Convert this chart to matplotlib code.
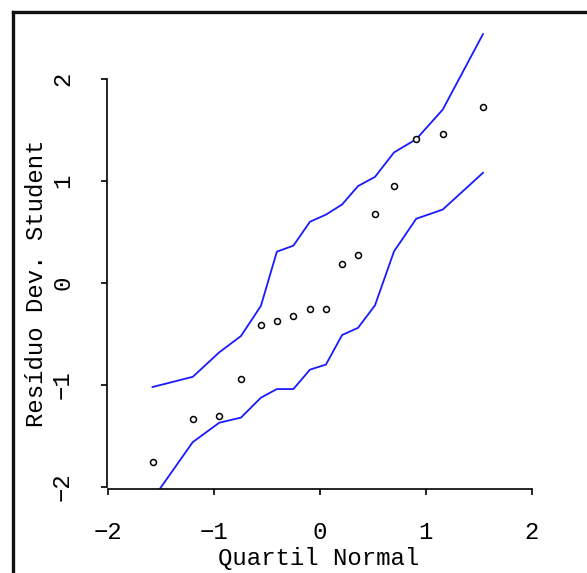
import matplotlib
matplotlib.use("Agg")
import matplotlib.pyplot as plt
from matplotlib.lines import Line2D

# Data
quantis = [-1.58, -1.20, -0.95, -0.745, -0.557, -0.406, -0.25, -0.094,
           0.057, 0.21, 0.36, 0.52, 0.70, 0.91, 1.16, 1.54]
residuos = [-1.76, -1.33, -1.30, -0.94, -0.41, -0.375, -0.32, -0.255,
            -0.255, 0.19, 0.275, 0.68, 0.95, 1.41, 1.46, 1.73]
env_sup = [-1.02, -0.92, -0.68, -0.52, -0.225, 0.307, 0.366, 0.60,
           0.67, 0.77, 0.95, 1.04, 1.28, 1.41, 1.70, 2.44]
env_inf = [-2.12, -1.56, -1.37, -1.32, -1.125, -1.04, -1.04, -0.85,
           -0.80, -0.51, -0.44, -0.22, 0.31, 0.63, 0.72, 1.08]
ticks = [-2, -1, 0, 1, 2]
tick_labels = ["\u22122", "\u22121", "0", "1", "2"]
xlabel = "Quartil Normal"
ylabel = "Resíduo Dev. Student"

plt.rcParams['font.family'] = ['Liberation Mono', 'DejaVu Sans Mono']
FS = 17.3

fig = plt.figure(figsize=(5.87, 5.73), dpi=100)
W, H = 587, 573
ax = fig.add_axes([107 / W, 1 - 489 / H, 430 / W, 461 / H])
ax.set_xlim(-2.01, 2.05)
ax.set_ylim(-2.02, 2.50)

ax.plot(quantis, env_sup, color='#1a1aff', lw=1.3, clip_on=True)
ax.plot(quantis, env_inf, color='#1a1aff', lw=1.3, clip_on=True)
ax.plot(quantis, residuos, linestyle='none', marker='o', ms=4.3,
        mfc='white', mec='black', mew=1.1)

for s in ['top', 'right']:
    ax.spines[s].set_visible(False)
ax.spines['left'].set_bounds(-2, 2)
ax.spines['bottom'].set_bounds(-2, 2)
ax.spines['left'].set_linewidth(1.2)
ax.spines['bottom'].set_linewidth(1.2)

ax.set_xticks(ticks)
ax.set_xticklabels(tick_labels, fontsize=FS)
ax.set_yticks(ticks)
ax.set_yticklabels(tick_labels, fontsize=FS, rotation=90, va='center', ha='center')
ax.tick_params(axis='x', direction='out', length=4, width=1.2, pad=19)
ax.tick_params(axis='y', direction='out', length=4, width=1.2, pad=28)

ax.set_xlabel(xlabel, fontsize=FS, va='baseline')
ax.xaxis.set_label_coords(0.492, -0.165)
ax.set_ylabel(ylabel, fontsize=FS, va='baseline', rotation=90,
              rotation_mode='anchor', ha='center')
ax.yaxis.set_label_coords(-0.149, 0.4458)

# outer frame (left and top edges visible)
fig.add_artist(Line2D([13 / W, 13 / W], [0, 1 - 12 / H], transform=fig.transFigure,
                      color='#111111', lw=2.4))
fig.add_artist(Line2D([13 / W, 1], [1 - 12 / H, 1 - 12 / H], transform=fig.transFigure,
                      color='#111111', lw=2.4))

fig.savefig("out.png", dpi=100)
